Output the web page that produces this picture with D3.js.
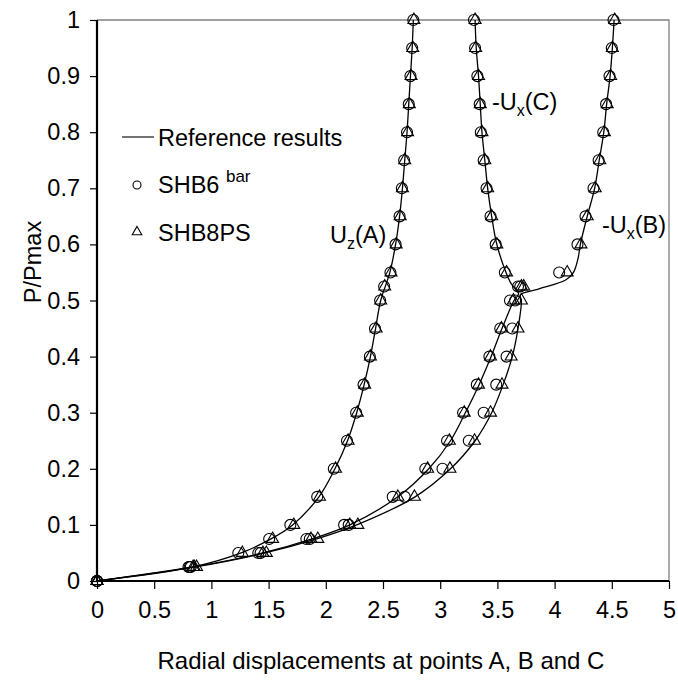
<!DOCTYPE html>
<html>
<head>
<meta charset="utf-8">
<script src="https://cdn.jsdelivr.net/npm/d3@7"></script>
<style>
  body { margin: 0; background: #fff; }
  text { font-family: "Liberation Sans", Arial, sans-serif; fill: #000; }
</style>
</head>
<body>
<div id="chart"></div>
<script>
// load levels of the two element results
var loads = [0, 0.025, 0.05, 0.075, 0.1, 0.15, 0.2, 0.25, 0.3, 0.35, 0.4, 0.45, 0.5, 0.525, 0.55, 0.6, 0.65, 0.7, 0.75, 0.8, 0.85, 0.9, 0.95, 1];

var shb6UzA = [0, 0.80, 1.235, 1.505, 1.69, 1.925, 2.07, 2.185, 2.265, 2.33, 2.385, 2.43, 2.475, 2.51, 2.565, 2.61, 2.645, 2.665, 2.685, 2.71, 2.725, 2.74, 2.755, 2.765];
var shb8UzA = [0, 0.85, 1.27, 1.535, 1.72, 1.945, 2.085, 2.195, 2.275, 2.34, 2.39, 2.44, 2.48, 2.515, 2.57, 2.615, 2.65, 2.67, 2.69, 2.715, 2.73, 2.745, 2.76, 2.77];
var shb6UxC = [0, 0.81, 1.41, 1.83, 2.16, 2.585, 2.87, 3.06, 3.20, 3.32, 3.43, 3.525, 3.61, 3.68, 3.565, 3.485, 3.44, 3.405, 3.38, 3.355, 3.345, 3.325, 3.305, 3.295];
var shb8UxC = [0, 0.84, 1.45, 1.87, 2.21, 2.63, 2.89, 3.08, 3.21, 3.335, 3.44, 3.535, 3.64, 3.71, 3.58, 3.495, 3.45, 3.415, 3.39, 3.365, 3.35, 3.335, 3.31, 3.305];
var shb6UxB = [0, 0.82, 1.43, 1.86, 2.20, 2.69, 3.02, 3.25, 3.38, 3.49, 3.58, 3.63, 3.655, 3.70, 4.04, 4.20, 4.27, 4.34, 4.385, 4.425, 4.45, 4.48, 4.50, 4.515];
var shb8UxB = [0, 0.87, 1.48, 1.93, 2.28, 2.775, 3.085, 3.30, 3.44, 3.54, 3.62, 3.68, 3.71, 3.73, 4.11, 4.23, 4.285, 4.355, 4.395, 4.435, 4.46, 4.49, 4.505, 4.525];

// reference solution curves
var refAp = [0, 0.025, 0.05, 0.075, 0.1, 0.15, 0.2, 0.25, 0.3, 0.35, 0.4, 0.45, 0.5, 0.55, 0.6, 0.65, 0.7, 0.75, 0.8, 0.85, 0.9, 0.95, 1];
var refAx = [0, 0.84, 1.26, 1.52, 1.71, 1.94, 2.08, 2.19, 2.27, 2.335, 2.39, 2.435, 2.48, 2.56, 2.61, 2.645, 2.67, 2.69, 2.71, 2.725, 2.74, 2.755, 2.765];
var refCp = [0, 0.025, 0.05, 0.075, 0.1, 0.15, 0.2, 0.25, 0.3, 0.35, 0.4, 0.45, 0.5, 0.512, 0.53, 0.55, 0.6, 0.65, 0.7, 0.75, 0.8, 0.85, 0.9, 0.95, 1];
var refCx = [0, 0.84, 1.45, 1.88, 2.21, 2.63, 2.90, 3.09, 3.22, 3.34, 3.445, 3.54, 3.645, 3.685, 3.62, 3.575, 3.495, 3.45, 3.415, 3.39, 3.365, 3.35, 3.335, 3.315, 3.305];
var refBp = [0, 0.025, 0.05, 0.075, 0.1, 0.15, 0.2, 0.25, 0.3, 0.35, 0.4, 0.45, 0.5, 0.51, 0.52, 0.537, 0.55, 0.575, 0.6, 0.65, 0.7, 0.75, 0.8, 0.85, 0.9, 0.95, 1];
var refBx = [0, 0.86, 1.47, 1.92, 2.27, 2.78, 3.09, 3.305, 3.45, 3.55, 3.63, 3.68, 3.71, 3.70, 3.85, 4.10, 4.165, 4.205, 4.225, 4.285, 4.35, 4.39, 4.43, 4.455, 4.485, 4.505, 4.52];

var xTicks = [0, 0.5, 1, 1.5, 2, 2.5, 3, 3.5, 4, 4.5, 5];
var yTicks = [0, 0.1, 0.2, 0.3, 0.4, 0.5, 0.6, 0.7, 0.8, 0.9, 1];

var width = 678, height = 680;
var plotL = 97, plotR = 669, plotT = 20, plotB = 581;

var svg = d3.select("#chart").append("svg")
  .attr("width", width)
  .attr("height", height);

var x = d3.scaleLinear().domain([0, 5]).range([plotL, plotR]);
var y = d3.scaleLinear().domain([0, 1]).range([plotB, plotT]);

// plot area border (top + right, grey)
svg.append("path")
  .attr("d", "M" + plotL + "," + plotT + "H" + plotR + "V" + plotB)
  .attr("fill", "none")
  .attr("stroke", "#808080")
  .attr("stroke-width", 1.3);

// axes
var xAxis = svg.append("g")
  .attr("transform", "translate(0," + plotB + ")")
  .call(d3.axisBottom(x).tickValues(xTicks).tickSize(8).tickPadding(12)
    .tickFormat(function(d){ return String(d); }));
var yAxis = svg.append("g")
  .attr("transform", "translate(" + plotL + ",0)")
  .call(d3.axisLeft(y).tickValues(yTicks).tickSize(7).tickPadding(10)
    .tickFormat(function(d){ return String(d); }));

[xAxis, yAxis].forEach(function(g){
  g.select(".domain").attr("stroke", "#000").attr("stroke-width", 2.2);
  g.selectAll(".tick line").attr("stroke", "#000").attr("stroke-width", 1.2);
  g.selectAll(".tick text")
    .attr("font-family", "Liberation Sans, Arial, sans-serif")
    .attr("font-size", 23.5)
    .attr("fill", "#000");
});
xAxis.select(".domain").attr("d", "M" + plotL + ",0H" + plotR);
yAxis.select(".domain").attr("d", "M0," + plotB + "V" + plotT);

// reference curves
var line = d3.line()
  .x(function(d){ return x(d[0]); })
  .y(function(d){ return y(d[1]); })
  .curve(d3.curveCatmullRom.alpha(0.5));

function zip(xs, ps) { return xs.map(function(v, i){ return [v, ps[i]]; }); }

[zip(refAx, refAp), zip(refCx, refCp), zip(refBx, refBp)].forEach(function(pts){
  svg.append("path")
    .datum(pts)
    .attr("d", line)
    .attr("fill", "none")
    .attr("stroke", "#000")
    .attr("stroke-width", 1.3);
});

// markers
var circleSym = d3.symbol().type(d3.symbolCircle).size(95);
var triSym = d3.symbol().type(d3.symbolTriangle).size(62);

function drawMarkers(values, sym) {
  svg.append("g").selectAll("path")
    .data(zip(values, loads))
    .enter().append("path")
    .attr("d", sym)
    .attr("transform", function(d){ return "translate(" + x(d[0]) + "," + y(d[1]) + ")"; })
    .attr("fill", "none")
    .attr("stroke", "#000")
    .attr("stroke-width", 1.1);
}
[shb6UzA, shb6UxC, shb6UxB].forEach(function(v){ drawMarkers(v, circleSym); });
[shb8UzA, shb8UxC, shb8UxB].forEach(function(v){ drawMarkers(v, triSym); });

// axis titles
svg.append("text")
  .attr("x", (plotL + plotR) / 2 - 2)
  .attr("y", 669)
  .attr("text-anchor", "middle")
  .attr("font-size", 24)
  .text("Radial displacements at points A, B and C");

svg.append("text")
  .attr("transform", "translate(41,262) rotate(-90)")
  .attr("text-anchor", "middle")
  .attr("font-size", 23.5)
  .text("P/Pmax");

// legend
svg.append("line")
  .attr("x1", 122).attr("x2", 154)
  .attr("y1", 137).attr("y2", 137)
  .attr("stroke", "#000").attr("stroke-width", 1.1);
svg.append("text").attr("x", 158).attr("y", 146).attr("font-size", 23.5).text("Reference results");

svg.append("path").attr("d", d3.symbol().type(d3.symbolCircle).size(50)())
  .attr("transform", "translate(137,185)")
  .attr("fill", "none").attr("stroke", "#000").attr("stroke-width", 1.1);
var t6 = svg.append("text").attr("x", 158).attr("y", 193).attr("font-size", 23.5);
t6.append("tspan").text("SHB6 ");
t6.append("tspan").attr("font-size", 17).attr("dy", -11).text("bar");

svg.append("path").attr("d", d3.symbol().type(d3.symbolTriangle).size(40)())
  .attr("transform", "translate(137,232)")
  .attr("fill", "none").attr("stroke", "#000").attr("stroke-width", 1.1);
svg.append("text").attr("x", 158).attr("y", 241).attr("font-size", 23.5).text("SHB8PS");

// curve labels
function subLabel(px, py, pre, sub, post) {
  var t = svg.append("text").attr("x", px).attr("y", py).attr("font-size", 23.5);
  t.append("tspan").text(pre);
  t.append("tspan").attr("font-size", 16).attr("dy", 6).text(sub);
  t.append("tspan").attr("dy", -6).text(post);
}
subLabel(330, 243, "U", "z", "(A)");
subLabel(492, 110, "-U", "x", "(C)");
subLabel(602, 233, "-U", "x", "(B)");
</script>
</body>
</html>
